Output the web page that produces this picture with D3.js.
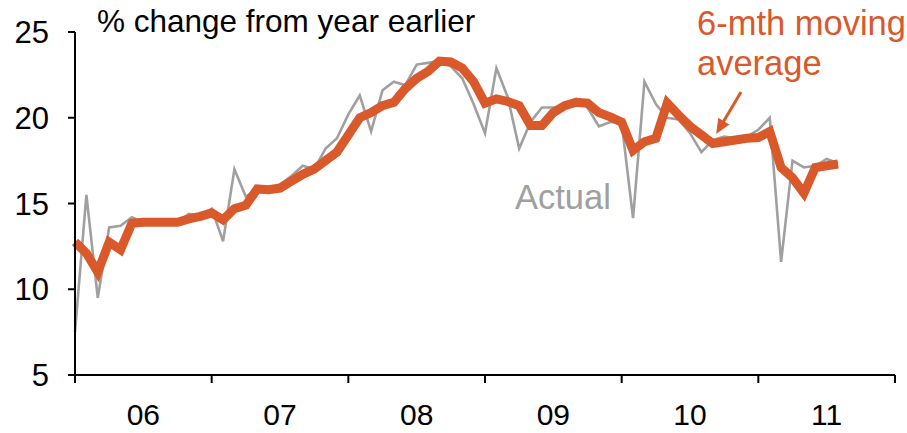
<!DOCTYPE html>
<html>
<head>
<meta charset="utf-8">
<script src="https://cdn.jsdelivr.net/npm/d3@7"></script>
<style>
  html, body { margin: 0; padding: 0; background: #fff; }
  svg { display: block; font-family: "Liberation Sans", Arial, sans-serif; }
</style>
</head>
<body>
<svg id="chart" width="907" height="433"></svg>
<script>
// Monthly data, Jan 2006 .. Aug 2011 (% change from year earlier)
const yearLabels = ["06", "07", "08", "09", "10", "11"];
const yTicks = [5, 10, 15, 20, 25];
const actual = [
  7.5, 15.5, 9.5, 13.6, 13.7, 14.2, 13.9, 13.9, 13.9, 13.9, 14.4, 14.3,
  14.7, 12.8, 17.0, 15.4, 15.8, 15.8, 16.1, 16.6, 17.2, 17.0, 18.2, 18.8,
  20.2, 21.3, 19.2, 21.6, 22.1, 21.9, 23.1, 23.2, 23.3, 23.0, 22.3, 20.8,
  19.1, 22.9, 21.2, 18.2, 19.75, 20.6, 20.6, 20.7, 21.1, 20.6, 19.5, 19.75,
  19.7, 14.15, 22.1, 20.8, 20.0, 19.9, 19.1, 18.0, 18.7, 18.9, 18.8, 18.9,
  19.3, 20.0, 11.6, 17.5, 17.1, 17.2, 17.6, 17.35
];
const movingAvg = [
  12.75, 12.1, 11.0, 12.75, 12.3, 13.85, 13.9, 13.9, 13.9, 13.9, 14.1, 14.25,
  14.45, 14.05, 14.7, 14.9, 15.85, 15.8, 15.9, 16.3, 16.7, 17.0, 17.5, 18.0,
  19.0, 20.0, 20.3, 20.7, 20.9, 21.7, 22.3, 22.7, 23.3, 23.25, 22.9, 22.1,
  20.85, 21.1, 20.95, 20.7, 19.55, 19.55, 20.3, 20.7, 20.9, 20.85, 20.3, 20.05,
  19.75, 18.1, 18.6, 18.8, 20.85, 20.15, 19.5, 19.0, 18.5, 18.6, 18.7, 18.8,
  18.85, 19.2, 17.1, 16.5, 15.6, 17.1, 17.2, 17.3
];

const orange = "#D9592A";
const grey = "#A0A0A0";

const svg = d3.select("#chart");
const x = d3.scaleLinear().domain([0, 72]).range([75, 895]);
const y = d3.scaleLinear().domain([5, 25]).range([375, 32]);

// Actual series
const line = d3.line().x((d, i) => x(i)).y(d => y(d));
svg.append("path").datum(actual)
  .attr("d", line).attr("fill", "none")
  .attr("stroke", grey).attr("stroke-width", 2.6)
  .attr("stroke-linejoin", "miter");

// Moving average
svg.append("path").datum(movingAvg)
  .attr("d", line).attr("fill", "none")
  .attr("stroke", orange).attr("stroke-width", 9)
  .attr("stroke-linejoin", "miter").attr("stroke-miterlimit", 3);

// Y axis
const yAxis = svg.append("g");
yAxis.append("line").attr("x1", x(0)).attr("x2", x(0))
  .attr("y1", y(25)).attr("y2", y(5)).attr("stroke", "#000").attr("stroke-width", 2);
yAxis.selectAll("line.t").data(yTicks).enter().append("line")
  .attr("class", "t").attr("x1", x(0) - 7).attr("x2", x(0))
  .attr("y1", d => y(d)).attr("y2", d => y(d))
  .attr("stroke", "#000").attr("stroke-width", 2);
yAxis.selectAll("text").data(yTicks).enter().append("text")
  .attr("x", 49).attr("y", d => y(d)).attr("dy", "0.36em")
  .attr("text-anchor", "end").attr("font-size", 31).attr("fill", "#000")
  .text(d => d);

// X axis
const xAxis = svg.append("g");
xAxis.append("line").attr("x1", x(0)).attr("x2", x(72))
  .attr("y1", y(5)).attr("y2", y(5)).attr("stroke", "#000").attr("stroke-width", 2);
const xTicks = d3.range(0, 73, 12);
xAxis.selectAll("line.t").data(xTicks).enter().append("line")
  .attr("class", "t").attr("x1", d => x(d)).attr("x2", d => x(d))
  .attr("y1", y(5)).attr("y2", y(5) + 8)
  .attr("stroke", "#000").attr("stroke-width", 2);
xAxis.selectAll("text").data(yearLabels).enter().append("text")
  .attr("x", (d, i) => x(i * 12 + 6)).attr("y", 425)
  .attr("text-anchor", "middle").attr("font-size", 30).attr("fill", "#000")
  .text(d => d);

// Title / annotations
svg.append("text").attr("x", 97).attr("y", 32)
  .attr("font-size", 31.5).attr("fill", "#000")
  .text("% change from year earlier");

svg.append("text").attr("x", 697).attr("y", 35)
  .attr("font-size", 34.5).attr("fill", orange).text("6-mth moving");
svg.append("text").attr("x", 697).attr("y", 75)
  .attr("font-size", 34.5).attr("fill", orange).text("average");

svg.append("text").attr("x", 515).attr("y", 209)
  .attr("font-size", 34.5).attr("fill", grey).text("Actual");

// Arrow
const tip = [x(56.3), y(19.05)];
const start = [741, 92];
const dx = tip[0] - start[0], dy = tip[1] - start[1];
const len = Math.hypot(dx, dy);
const ux = dx / len, uy = dy / len;
const headL = 15, headW = 6.5;
const base = [tip[0] - headL * ux, tip[1] - headL * uy];
svg.append("line").attr("x1", start[0]).attr("y1", start[1])
  .attr("x2", base[0] + ux * 2).attr("y2", base[1] + uy * 2)
  .attr("stroke", orange).attr("stroke-width", 3);
svg.append("path")
  .attr("d", `M${tip[0]},${tip[1]} L${base[0] + headW * uy},${base[1] - headW * ux} L${base[0] - headW * uy},${base[1] + headW * ux} Z`)
  .attr("fill", orange);
</script>
</body>
</html>
